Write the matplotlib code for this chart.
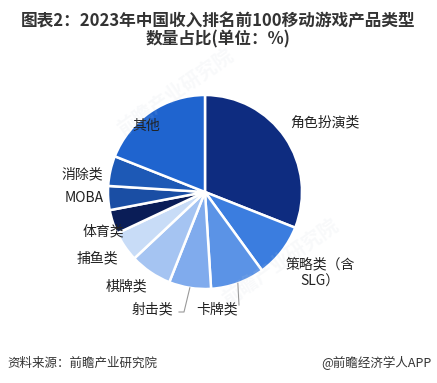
import numpy as np
import matplotlib
matplotlib.use("Agg")
import matplotlib.pyplot as plt

plt.rcParams['font.family'] = ['Noto Sans CJK SC', 'DejaVu Sans']

# data: number of products (out of top 100) per game type
categories = ["角色扮演类", "策略类（含\nSLG）", "卡牌类", "射击类", "棋牌类",
              "捕鱼类", "体育类", "MOBA", "消除类", "其他"]
shares = [31, 9, 9, 7, 7, 5, 4, 4, 5, 19]
colors = ["#0e2c80", "#3b7ddf", "#5b93e6", "#80abed", "#a5c4f2",
          "#c8dcf7", "#0a1d57", "#1a4ea4", "#1d59b6", "#1f64cf"]

# layout (image pixel coords, y from top)
W, H = 437, 383
cx, cy, R = 205, 192, 97
label_pos = [(325, 122), (320, 273), (217, 309), (152, 309), (126, 286),
             (97, 258), (103, 231), (84, 198), (82, 174), (146, 126)]

fig = plt.figure(figsize=(W / 100, H / 100), dpi=100)
ax = fig.add_axes([0, 0, 1, 1])

wedges, _ = ax.pie(shares, colors=colors, startangle=90, counterclock=False,
                   center=(cx, H - cy), radius=R,
                   wedgeprops=dict(edgecolor="white", linewidth=1.8))
# pie() resets the limits, so set them afterwards
ax.set_xlim(0, W)
ax.set_ylim(0, H)
ax.set_aspect("equal")
ax.axis("off")

for i, (name, (lx, ly)) in enumerate(zip(categories, label_pos)):
    ax.text(lx, H - ly, name, ha="center", va="center", fontsize=10,
            color="#222222", linespacing=1.3)

# leader lines for the two bottom labels
mids = {}
for w in wedges:
    mids[len(mids)] = np.deg2rad((w.theta1 + w.theta2) / 2)
for idx, path in [(2, [(239, 305)]), (3, [(184, 312), (179, 312)])]:
    a = mids[idx]
    x0, y0 = cx + R * np.cos(a), (H - cy) + R * np.sin(a)
    xs = [x0] + [p[0] for p in path]
    ys = [y0] + [H - p[1] for p in path]
    ax.plot(xs, ys, color="#999999", lw=0.8)

# title
fig.text(0.5, 1 - 21 / H, "图表2：2023年中国收入排名前100移动游戏产品类型",
         ha="center", va="center", fontsize=12, fontweight="bold", color="#333333")
fig.text(0.5, 1 - 39 / H, "数量占比(单位：%)",
         ha="center", va="center", fontsize=12, fontweight="bold", color="#333333")

# faint watermarks
for (wx, wy) in [(175, 92), (280, 262)]:
    ax.text(wx, H - wy, "前瞻产业研究院", fontsize=14, color="#c8d0dc", alpha=0.12,
            rotation=35, ha="center", va="center", fontweight="bold")

# footer
fig.text(7 / W, 1 - 363 / H, "资料来源：前瞻产业研究院", ha="left", va="center",
         fontsize=9, color="#333333")
fig.text(432 / W, 1 - 363 / H, "@前瞻经济学人APP", ha="right", va="center",
         fontsize=9, color="#333333")

fig.savefig("out.png", dpi=100)
